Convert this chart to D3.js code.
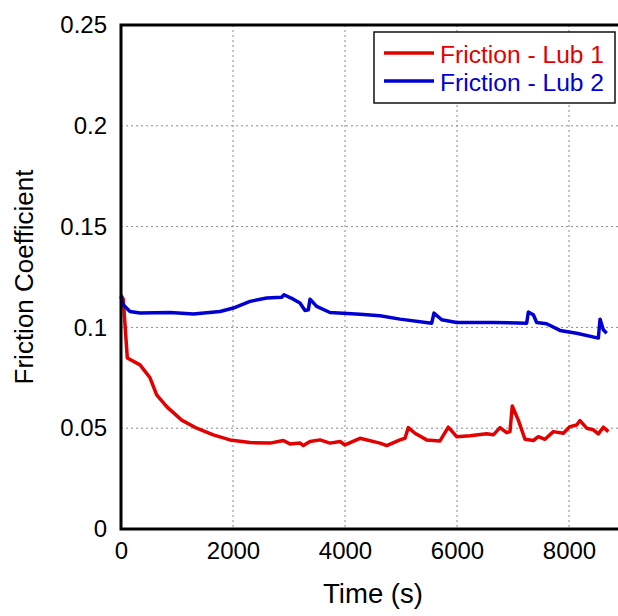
<!DOCTYPE html>
<html>
<head>
<meta charset="utf-8">
<script src="https://cdn.jsdelivr.net/npm/d3@7"></script>
<style>
	body { margin: 0; background: #fff; }
	svg { display: block; font-family: "Liberation Sans", Arial, sans-serif; }
</style>
</head>
<body>
<div id="chart"></div>
<script>
'use strict';

// Lub 1 (red) - time in s, friction coefficient
var lub1Time = [0, 40, 113, 340, 518, 637, 816, 1084, 1352, 1648, 1946, 2304, 2661, 2899, 3018, 3200, 3256, 3375, 3554, 3732, 3911, 4000, 4268,
	4625, 4744, 4982, 5071, 5131, 5250, 5458, 5696, 5845, 5994, 6232, 6530, 6649, 6768, 6887, 6946, 6987, 7095, 7214, 7363, 7452, 7571,
	7720, 7899, 8018, 8137, 8196, 8316, 8435, 8524, 8613, 8702];
var lub1Value = [0.116, 0.114, 0.0848, 0.0814, 0.075, 0.0665, 0.0607, 0.054, 0.050, 0.0467, 0.0442, 0.0429, 0.0426, 0.0439, 0.0422, 0.0426, 0.0414, 0.0434, 0.0442, 0.0426, 0.0434, 0.0417, 0.045,
	0.0426, 0.0414, 0.0442, 0.045, 0.0503, 0.0475, 0.0442, 0.0437, 0.0505, 0.0458, 0.0462, 0.0472, 0.0467, 0.0503, 0.0478, 0.0483, 0.061, 0.054, 0.0445, 0.0439, 0.0458, 0.0445,
	0.0483, 0.0475, 0.0508, 0.0516, 0.0538, 0.050, 0.0492, 0.0472, 0.0505, 0.0483];

// Lub 2 (blue)
var lub2Time = [0, 40, 160, 340, 875, 1292, 1768, 2006, 2304, 2601, 2869, 2911, 3077, 3196, 3286, 3345, 3375, 3494, 3732, 4268,
	4625, 4982, 5548, 5589, 5726, 5994, 6649, 7244, 7274, 7363, 7423, 7601, 7839, 8137, 8524, 8554, 8613, 8673];
var lub2Value = [0.1153, 0.1112, 0.1079, 0.1071, 0.1074, 0.1067, 0.1079, 0.1096, 0.1129, 0.1146, 0.1150, 0.1162, 0.114, 0.1121, 0.1084, 0.1087, 0.114, 0.1104, 0.1074, 0.1065,
	0.1058, 0.1041, 0.1021, 0.1071, 0.1038, 0.1024, 0.1024, 0.1021, 0.1076, 0.1063, 0.1024, 0.1018, 0.0985, 0.0971, 0.0947, 0.1041, 0.0988, 0.0971];

var seriesNames = ['Friction - Lub 1', 'Friction - Lub 2'];
var seriesColors = ['#e30000', '#0000d2'];

var xTicks = [0, 2000, 4000, 6000, 8000];
var yTicks = [0, 0.05, 0.1, 0.15, 0.2, 0.25];

function zip(xs, ys) {
	return xs.map(function(x, i) { return [x, ys[i]]; });
}
var series = [zip(lub1Time, lub1Value), zip(lub2Time, lub2Value)];

var W = 618, H = 616;
var margin = {top: 25, left: 121, bottom: 87};
var width = 504;   // plot runs past the right edge of the picture
var height = H - margin.top - margin.bottom;

var xScale = d3.scaleLinear().domain([0, 9000]).range([0, width]);
var yScale = d3.scaleLinear().domain([0, 0.25]).range([height, 0]);

var svg = d3.select('#chart').append('svg')
	.attr('width', W)
	.attr('height', H);
var view = svg.append('g')
	.attr('transform', 'translate(' + margin.left + ',' + margin.top + ')');

// grids
view.append('g')
	.selectAll('line')
	.data(xTicks.filter(function(d) { return d > 0; }))
	.enter().append('line')
		.attr('x1', xScale).attr('x2', xScale)
		.attr('y1', 0).attr('y2', height)
		.attr('stroke', '#8a8a8a')
		.attr('stroke-dasharray', '2,3');
view.append('g')
	.selectAll('line')
	.data(yTicks.filter(function(d) { return d > 0 && d < 0.25; }))
	.enter().append('line')
		.attr('y1', yScale).attr('y2', yScale)
		.attr('x1', 0).attr('x2', width)
		.attr('stroke', '#8a8a8a')
		.attr('stroke-dasharray', '2,3');

// axes
var xAxis = d3.axisBottom(xScale).tickValues(xTicks).tickSize(0).tickPadding(13).tickFormat(d3.format('d'));
var yAxis = d3.axisLeft(yScale).tickValues(yTicks).tickSize(0).tickPadding(14).tickFormat(function(d) { return String(+d.toFixed(2)); });

var gx = view.append('g')
	.attr('transform', 'translate(0,' + height + ')')
	.call(xAxis);
var gy = view.append('g').call(yAxis);
[gx, gy].forEach(function(g) {
	g.select('.domain').remove();
	g.selectAll('text')
		.attr('font-size', 24)
		.attr('font-family', '"Liberation Sans", Arial, sans-serif')
		.attr('fill', '#000');
});

// lines
var line = d3.line()
	.x(function(d) { return xScale(d[0]); })
	.y(function(d) { return yScale(d[1]); });

view.append('g')
	.selectAll('path')
	.data(series)
	.enter().append('path')
		.attr('d', line)
		.attr('fill', 'none')
		.attr('stroke', function(d, i) { return seriesColors[i]; })
		.attr('stroke-width', 3.5)
		.attr('stroke-linejoin', 'round');

// frame
view.append('rect')
	.attr('x', 0).attr('y', 0)
	.attr('width', width).attr('height', height)
	.attr('fill', 'none')
	.attr('stroke', '#000')
	.attr('stroke-width', 3);

// axis labels
svg.append('text')
	.attr('x', margin.left + width / 2)
	.attr('y', 603)
	.attr('text-anchor', 'middle')
	.attr('font-size', 27.5)
	.text('Time (s)');
svg.append('text')
	.attr('transform', 'translate(33,' + (margin.top + height / 2) + ') rotate(-90)')
	.attr('text-anchor', 'middle')
	.attr('font-size', 26)
	.text('Friction Coefficient');

// legend
var legend = svg.append('g').attr('transform', 'translate(374,32)');
legend.append('rect')
	.attr('width', 241).attr('height', 71)
	.attr('fill', '#fff')
	.attr('stroke', '#111')
	.attr('stroke-width', 1.5);
var item = legend.selectAll('.item')
	.data(seriesNames)
	.enter().append('g')
		.attr('class', 'item')
		.attr('transform', function(d, i) { return 'translate(0,' + (21 + i * 28) + ')'; });
item.append('line')
	.attr('x1', 10).attr('x2', 60)
	.attr('stroke', function(d, i) { return seriesColors[i]; })
	.attr('stroke-width', 3.5);
item.append('text')
	.attr('x', 66)
	.attr('y', 10)
	.attr('font-size', 24.6)
	.attr('fill', function(d, i) { return seriesColors[i]; })
	.text(function(d) { return d; });
</script>
</body>
</html>
